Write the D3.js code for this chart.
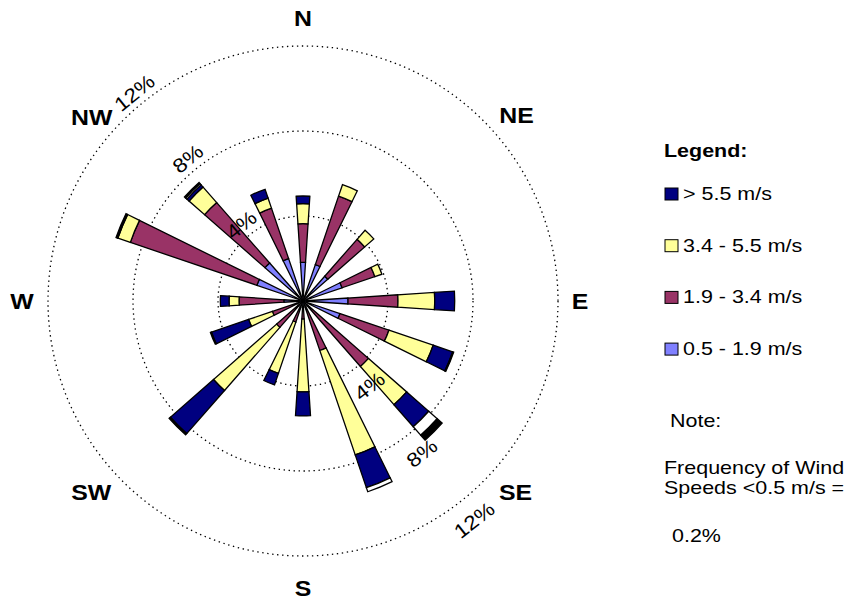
<!DOCTYPE html>
<html>
<head>
<meta charset="utf-8">
<script src="https://cdn.jsdelivr.net/npm/d3@7"></script>
<style>
  body { margin: 0; background: #fff; }
  text { font-family: "Liberation Sans", Arial, sans-serif; fill: #000; }
</style>
</head>
<body>
<div id="chart"></div>
<script>
// wind rose: 16 directions, frequency (%) per speed class, stacked from the centre out

const directions = ["N", "NNE", "NE", "ENE", "E", "ESE", "SE", "SSE",
                    "S", "SSW", "SW", "WSW", "W", "WNW", "NW", "NNW"];

// speed classes (in %)
const speed05to19 = [1.82, 1.81, 1.55, 1.94, 2.12, 1.84, 0.30, 0.30, 0.30, 0.30, 0.30, 0.30, 0.90, 2.29, 2.38, 2.11];
const speed19to34 = [1.82, 3.40, 2.31, 1.63, 2.35, 2.43, 3.80, 2.16, 0.55, 0.75, 1.35, 1.22, 2.11, 6.29, 3.78, 2.50];
const speed34to55 = [0.94, 0.57, 0.57, 0.35, 1.73, 2.20, 2.39, 5.19, 3.43, 2.55, 3.95, 1.18, 0.47, 0.62, 0.97, 0.50];
const speedOver55 = [0.36, 0.00, 0.00, 0.00, 0.94, 0.97, 1.38, 1.63, 1.13, 0.57, 2.70, 1.85, 0.41, 0.03, 0.14, 0.44];
// two thin end classes drawn in white and black (not in the legend)
const speedWhite  = [0.00, 0.00, 0.00, 0.00, 0.00, 0.00, 0.53, 0.20, 0.00, 0.00, 0.00, 0.00, 0.00, 0.00, 0.08, 0.00];
const speedBlack  = [0.00, 0.00, 0.00, 0.00, 0.00, 0.05, 0.31, 0.00, 0.00, 0.00, 0.08, 0.05, 0.00, 0.06, 0.07, 0.00];

const ringTicks = [4, 8, 12];
const compass = ["N", "NE", "E", "SE", "S", "SW", "W", "NW"];
const legendLabels = ["> 5.5 m/s", "3.4 - 5.5 m/s", "1.9 - 3.4 m/s", "0.5 - 1.9 m/s"];
const calmText = "0.2%";

const keys = ["c1", "c2", "c3", "c4", "c5", "c6"];
const colors = ["#8080ff", "#993366", "#ffff99", "#000080", "#ffffff", "#000000"];

const table = directions.map((d, i) => ({
  dir: d,
  c1: speed05to19[i], c2: speed19to34[i], c3: speed34to55[i],
  c4: speedOver55[i], c5: speedWhite[i], c6: speedBlack[i]
}));

const width = 858, height = 602;
const cx = 303, cy = 301;
const stretch = 1.13; // text in the original is a little wide

const svg = d3.select("#chart").append("svg")
  .attr("width", width)
  .attr("height", height);

const g = svg.append("g").attr("transform", "translate(" + cx + "," + cy + ")");

let r = d3.scaleLinear().domain([0, 12]).range([0, 255]);
const deg = Math.PI / 180;
let angle = d3.scaleBand()
  .domain(directions)
  .range([-11.25 * deg, 348.75 * deg])
  .paddingInner(2 / 3)
  .paddingOuter(1 / 3);

// dotted rings
g.selectAll("circle.ring")
  .data(ringTicks)
  .enter().append("circle")
  .attr("class", "ring")
  .attr("r", d => r(d))
  .attr("fill", "none")
  .attr("stroke", "#000")
  .attr("stroke-width", 1.3)
  .attr("stroke-dasharray", "1.4,3.6");

// petals
let stacked = d3.stack().keys(keys)(table);
let arc = d3.arc();

stacked.forEach((layer, k) => {
  g.selectAll("path.s" + k)
    .data(layer.filter(d => d[1] - d[0] > 0))
    .enter().append("path")
    .attr("class", "s" + k)
    .attr("d", d => arc({
      innerRadius: r(d[0]),
      outerRadius: r(d[1]),
      startAngle: angle(d.data.dir),
      endAngle: angle(d.data.dir) + angle.bandwidth()
    }))
    .attr("fill", colors[k])
    .attr("stroke", "#000")
    .attr("stroke-width", 1.3)
    .attr("stroke-linejoin", "miter");
});

// ring labels, upper-left and lower-right
function ringLabel(val, a, dist, rot) {
  let x = Math.sin(a * deg) * dist;
  let y = -Math.cos(a * deg) * dist;
  g.append("text")
    .attr("transform", "translate(" + x + "," + y + ") rotate(" + rot + ") scale(" + stretch + ",1)")
    .attr("text-anchor", "middle")
    .attr("dy", "0.35em")
    .attr("font-size", 20)
    .text(val + "%");
}
ringTicks.forEach(t => {
  ringLabel(t, -39, r(t) + 13, -39);
  ringLabel(t, 142, r(t) + 23, -38);
});

// compass labels (diagonals sit a little off 45 degrees in the original)
const compassAngle = [0, 49, 90, 132, 180, 228, 270, 311];
const compassDist = [283, 283, 277, 286, 287, 285, 281, 280];
compass.forEach((c, i) => {
  let a = compassAngle[i] * deg;
  let x = Math.sin(a) * compassDist[i];
  let y = -Math.cos(a) * compassDist[i];
  g.append("text")
    .attr("transform", "translate(" + x + "," + y + ") scale(" + stretch + ",1)")
    .attr("dy", "0.36em")
    .attr("text-anchor", "middle")
    .attr("font-size", 22)
    .attr("font-weight", "bold")
    .text(c);
});

// legend
const lg = svg.append("g");
function legendText(x, y, size, txt, bold) {
  return lg.append("text")
    .attr("transform", "translate(" + x + "," + y + ") scale(" + stretch + ",1)")
    .attr("font-size", size)
    .attr("font-weight", bold ? "bold" : "normal")
    .text(txt);
}
legendText(664, 157, 19, "Legend:", true);

const legendColors = [colors[3], colors[2], colors[1], colors[0]];
legendLabels.forEach((l, i) => {
  let y = 200 + i * 51.7;
  lg.append("rect")
    .attr("x", 665).attr("y", y - 12)
    .attr("width", 13).attr("height", 12)
    .attr("fill", legendColors[i])
    .attr("stroke", "#000").attr("stroke-width", 1);
  legendText(683, y, 19, l);
});

legendText(670, 427, 19, "Note:");
legendText(664, 474, 19, "Frequency of Wind");
legendText(664, 494, 19, "Speeds <0.5 m/s =");
legendText(672, 542, 19, calmText);
</script>
</body>
</html>
